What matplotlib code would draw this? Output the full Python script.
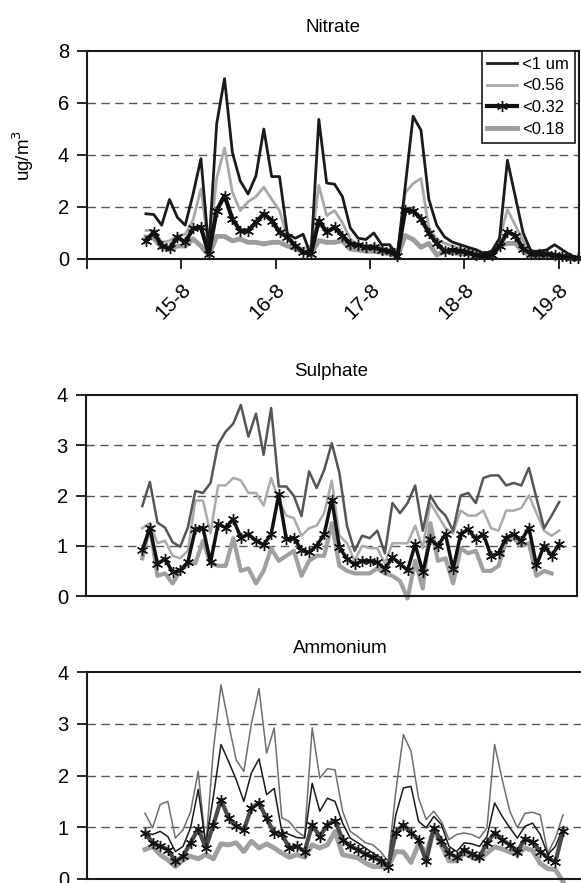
import numpy as np
import matplotlib.pyplot as plt

plt.rcParams['font.family'] = ['Liberation Sans', 'DejaVu Sans']

size_labels = ['<1 um', '<0.56', '<0.32', '<0.18']

# Nitrate, 2-hourly samples from 14-8 15:00
nitrate_start = 14.625
nitrate_lt1 = [1.74, 1.71, 1.3, 2.29, 1.6, 1.3, 2.5, 3.86, 0.35, 5.2,
               6.94, 4.1, 3.0, 2.5, 3.2, 5.0, 3.17, 3.17, 0.96, 0.8,
               0.95, 0.15, 5.37, 2.92, 2.88, 2.4, 1.2, 0.8, 0.75, 1.0,
               0.55, 0.55, 0.15, 2.8, 5.49, 4.95, 2.3, 1.3, 0.85, 0.65,
               0.55, 0.45, 0.36, 0.22, 0.3, 0.8, 3.8, 2.4, 1.0, 0.3,
               0.3, 0.35, 0.55, 0.35, 0.15, 0.05]
nitrate_lt056 = [1.1, 1.1, 0.64, 0.7, 0.9, 0.95, 1.5, 2.7, 0.35, 3.1,
                 4.27, 2.57, 1.86, 2.2, 2.4, 2.76, 2.3, 1.86, 0.84, 0.5,
                 0.4, 0.5, 2.83, 1.67, 1.86, 1.4, 0.77, 0.5, 0.5, 0.55,
                 0.45, 0.35, 0.15, 2.55, 2.9, 3.1, 1.2, 0.75, 0.6, 0.5,
                 0.4, 0.35, 0.3, 0.15, 0.2, 0.8, 1.9, 1.3, 0.7, 0.25,
                 0.25, 0.25, 0.2, 0.15, 0.1, 0.05]
nitrate_lt032 = [0.71, 1.03, 0.51, 0.41, 0.84, 0.64, 1.18, 1.22, 0.19, 1.86,
                 2.44, 1.54, 1.09, 1.09, 1.41, 1.74, 1.48, 1.03, 0.84, 0.51,
                 0.26, 0.19, 1.48, 1.03, 1.22, 0.9, 0.58, 0.55, 0.45, 0.45,
                 0.35, 0.3, 0.1, 1.9, 1.85, 1.55, 1.0, 0.6, 0.3, 0.35,
                 0.3, 0.25, 0.15, 0.1, 0.15, 0.5, 1.05, 0.9, 0.4, 0.2,
                 0.2, 0.2, 0.15, 0.1, 0.05, 0.05]
nitrate_lt018 = [0.84, 0.8, 0.45, 0.36, 0.5, 0.5, 0.77, 0.5, 0.13, 0.87,
                 0.87, 0.7, 0.77, 0.64, 0.64, 0.58, 0.64, 0.64, 0.5, 0.4,
                 0.26, 0.19, 0.71, 0.64, 0.64, 0.7, 0.38, 0.35, 0.3, 0.3,
                 0.25, 0.2, 0.1, 0.9, 0.75, 0.45, 0.6, 0.15, 0.3, 0.25,
                 0.2, 0.2, 0.15, 0.1, 0.1, 0.5, 0.6, 0.6, 0.3, 0.1,
                 0.1, 0.1, 0.1, 0.05, 0.05, 0.0]
day_ticks = [14, 15, 16, 17, 18, 19]
day_labels = ['', '15-8', '16-8', '17-8', '18-8', '19-8']

sulphate_lt1 = [1.79, 2.27, 1.46, 1.36, 1.07, 0.98, 1.36, 2.09, 2.05, 2.25,
                3.02, 3.27, 3.43, 3.8, 3.17, 3.63, 2.81, 3.74, 2.18, 2.18,
                1.99, 1.59, 2.48, 2.15, 2.51, 3.04, 2.45, 1.4, 0.9, 1.2,
                1.15, 1.3, 0.85, 1.85, 1.65, 1.85, 2.2, 1.3, 2.0, 1.75,
                1.6, 1.3, 2.0, 2.05, 1.85, 2.35, 2.4, 2.4, 2.2, 2.25,
                2.2, 2.55, 1.95, 1.35, 1.6, 1.87]
sulphate_lt056 = [1.35, 1.45, 1.05, 1.1, 0.8, 0.75, 0.9, 1.9, 1.9, 1.25,
                  2.2, 2.2, 2.35, 2.3, 2.05, 2.05, 1.8, 2.35, 1.9, 1.6,
                  1.55, 1.2, 1.35, 1.4, 1.65, 2.3, 1.2, 1.05, 0.7, 1.0,
                  0.95, 0.95, 0.65, 1.05, 1.05, 1.05, 1.4, 0.95, 1.85, 1.6,
                  1.35, 1.25, 1.7, 1.6, 1.6, 1.7, 1.35, 1.3, 1.7, 1.7,
                  1.75, 2.0, 1.65, 1.3, 1.2, 1.3]
sulphate_lt032 = [0.91, 1.36, 0.64, 0.74, 0.47, 0.51, 0.67, 1.33, 1.36, 0.67,
                  1.43, 1.36, 1.53, 1.16, 1.23, 1.1, 1.02, 1.23, 2.02, 1.13,
                  1.16, 0.91, 0.87, 1.0, 1.23, 1.92, 0.97, 0.74, 0.63, 0.7,
                  0.7, 0.67, 0.54, 0.77, 0.64, 0.51, 1.03, 0.47, 1.13, 1.0,
                  1.23, 0.53, 1.23, 1.33, 1.13, 1.23, 0.8, 0.85, 1.16, 1.23,
                  1.1, 1.36, 0.61, 1.0, 0.8, 1.03]
sulphate_lt018 = [0.75, 1.4, 0.4, 0.45, 0.25, 0.5, 0.65, 0.65, 1.1, 0.65,
                  0.6, 0.6, 1.15, 0.5, 0.55, 0.25, 0.5, 0.95, 0.7, 0.8,
                  0.9, 0.4, 0.7, 0.8, 0.8, 1.45, 0.6, 0.5, 0.45, 0.45,
                  0.45, 0.55, 0.45, 0.4, 0.3, -0.05, 0.7, 0.15, 1.45, 0.7,
                  0.75, 0.25, 0.95, 0.85, 0.9, 0.5, 0.5, 0.6, 1.1, 1.15,
                  1.0, 1.05, 0.4, 0.5, 0.45, np.nan]

ammonium_lt1 = [0.9, 0.86, 0.92, 0.82, 0.53, 0.63, 0.99, 1.73, 0.66, 1.6,
                2.6, 2.27, 1.92, 1.5, 2.05, 2.32, 1.63, 1.75, 0.92, 0.86,
                0.8, 0.79, 1.85, 1.31, 1.56, 1.5, 1.08, 0.79, 0.7, 0.6,
                0.5, 0.41, 0.28, 1.24, 1.76, 1.79, 1.11, 0.99, 1.21, 1.05,
                0.63, 0.53, 0.7, 0.68, 0.63, 0.82, 1.47, 1.21, 0.99, 0.79,
                1.02, 1.08, 0.86, 0.47, 0.63, 0.99]
ammonium_lt056 = [1.27, 0.99, 1.44, 1.5, 0.79, 0.95, 1.3, 2.08, 0.63, 2.5,
                  3.75, 3.0, 2.3, 2.08, 3.0, 3.68, 2.43, 2.92, 1.18, 1.11,
                  0.92, 0.82, 2.92, 1.95, 2.13, 2.11, 1.31, 0.92, 0.82, 0.7,
                  0.66, 0.53, 0.34, 1.69, 2.79, 2.47, 1.56, 1.15, 1.31, 1.11,
                  0.76, 0.86, 0.89, 0.86, 0.79, 0.99, 2.6, 1.92, 1.31, 0.99,
                  1.27, 1.29, 1.24, 0.5, 0.79, 1.24]
ammonium_lt032 = [0.89, 0.7, 0.63, 0.57, 0.34, 0.44, 0.7, 0.97, 0.6, 1.05,
                  1.53, 1.18, 1.02, 0.95, 1.37, 1.47, 1.17, 0.89, 0.86, 0.6,
                  0.63, 0.53, 1.05, 0.82, 1.05, 1.13, 0.76, 0.63, 0.57, 0.48,
                  0.42, 0.35, 0.24, 0.89, 1.05, 0.89, 0.76, 0.34, 0.99, 0.73,
                  0.5, 0.42, 0.57, 0.48, 0.42, 0.7, 0.89, 0.76, 0.66, 0.53,
                  0.78, 0.71, 0.53, 0.41, 0.33, 0.92]
ammonium_lt018 = [0.57, 0.63, 0.47, 0.37, 0.24, 0.37, 0.44, 0.39, 0.47, 0.39,
                  0.68, 0.66, 0.7, 0.53, 0.73, 0.6, 0.68, 0.6, 0.5, 0.42,
                  0.47, 0.42, 0.66, 0.6, 0.66, 0.92, 0.47, 0.44, 0.41, 0.31,
                  0.24, 0.24, 0.24, 0.53, 0.52, 0.32, 0.68, 0.5, 0.95, 0.65,
                  0.35, 0.35, 0.5, 0.42, 0.38, 0.5, 0.62, 0.58, 0.52, 0.47,
                  0.6, 0.55, 0.3, 0.2, 0.18, -0.05]

W, H = 581, 883
fig = plt.figure(figsize=(W / 100, H / 100), dpi=100)

def add_axes(left, top, right, bottom):
    return fig.add_axes([left / W, 1 - bottom / H, (right - left) / W, (bottom - top) / H])

ax_n = add_axes(87, 51, 579, 259)
ax_s = add_axes(86, 395, 577, 596)
ax_a = add_axes(87, 672, 593, 879)

asterisk = (6, 2, 0)

def style_panel(ax, title, ymax, ystep):
    ax.set_ylim(0, ymax)
    ax.set_yticks(np.arange(0, ymax + 0.1, ystep))
    for y in np.arange(ystep, ymax, ystep):
        ax.axhline(y, color='#555555', lw=1, dashes=(6, 4), zorder=0)
    for s in ax.spines.values():
        s.set_linewidth(1.5)
        s.set_color('#1a1a1a')
    ax.tick_params(axis='y', direction='out', length=7, width=1.2, pad=6, labelsize=14.5)
    ax.set_title(title, fontsize=13.5, pad=14)

def draw(ax, x, lt1, lt056, lt032, lt018, styles):
    h018, = ax.plot(x, lt018, clip_on=False, **styles[3])
    h056, = ax.plot(x, lt056, clip_on=False, **styles[1])
    h1, = ax.plot(x, lt1, clip_on=False, **styles[0])
    h032, = ax.plot(x, lt032, clip_on=False, marker=asterisk, markersize=8,
                    markeredgewidth=1, markeredgecolor='#111111', **styles[2])
    return [h1, h056, h032, h018]

# Nitrate
x_n = nitrate_start + np.arange(len(nitrate_lt1)) / 12
handles = draw(ax_n, x_n, nitrate_lt1, nitrate_lt056, nitrate_lt032, nitrate_lt018,
               [dict(color='#1a1a1a', lw=2),
                dict(color='#a8a8a8', lw=2),
                dict(color='#111111', lw=3),
                dict(color='#9c9c9c', lw=3.5)])
style_panel(ax_n, 'Nitrate', 8, 2)
ax_n.set_xlim(14, 14 + (579 - 87) / 94.3)
ax_n.set_xticks(day_ticks)
ax_n.set_xticklabels(day_labels, rotation=45, ha='right', va='top',
                     rotation_mode='anchor', fontsize=15)
ax_n.tick_params(axis='x', direction='out', length=7, width=1.2, pad=8)
ax_n.set_ylabel('ug/m$^3$', fontsize=13.5)
ax_n.yaxis.set_label_coords(-0.103, 0.5)
leg = ax_n.legend(handles, size_labels, loc='upper right', bbox_to_anchor=(0.992, 1.0),
                  borderaxespad=0, fontsize=12, frameon=True, fancybox=False,
                  edgecolor='#1a1a1a', framealpha=1, numpoints=1,
                  handlelength=1.8, handletextpad=0.3, labelspacing=0.4,
                  borderpad=0.35)
leg.get_frame().set_linewidth(1.2)

# Sulphate
x_s = np.arange(len(sulphate_lt1))
draw(ax_s, x_s, sulphate_lt1, sulphate_lt056, sulphate_lt032, sulphate_lt018,
     [dict(color='#555555', lw=1.8),
      dict(color='#aaaaaa', lw=1.8),
      dict(color='#111111', lw=2.5),
      dict(color='#a0a0a0', lw=3)])
style_panel(ax_s, 'Sulphate', 4, 1)
ax_s.set_xlim((86 - 142.3) / 7.58, (577 - 142.3) / 7.58)
ax_s.tick_params(axis='x', bottom=False, labelbottom=False)

# Ammonium
x_a = np.arange(len(ammonium_lt1))
draw(ax_a, x_a, ammonium_lt1, ammonium_lt056, ammonium_lt032, ammonium_lt018,
     [dict(color='#1a1a1a', lw=1.1),
      dict(color='#6e6e6e', lw=1.1),
      dict(color='#4a4a4a', lw=3),
      dict(color='#a0a0a0', lw=3.5)])
style_panel(ax_a, 'Ammonium', 4, 1)
ax_a.set_xlim((87 - 145) / 7.6, (593 - 145) / 7.6)
ax_a.tick_params(axis='x', bottom=False, labelbottom=False)

fig.savefig('out.png', dpi=100)
